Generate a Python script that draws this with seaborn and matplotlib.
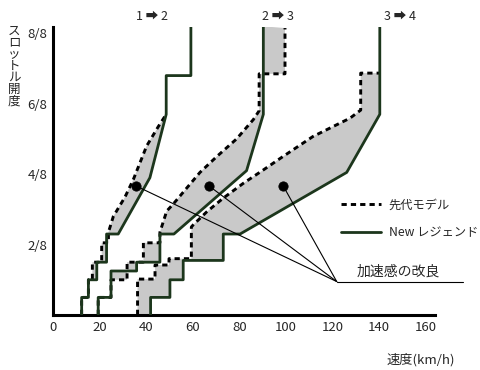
import matplotlib
matplotlib.use("Agg")
import matplotlib.pyplot as plt
import seaborn as sns
from matplotlib.lines import Line2D

# vehicle speed (km/h) vs throttle opening (in eighths)
new12_speed = [12.3, 12.3, 15.2, 15.2, 18.8, 18.8, 23.0, 23.0, 28.0, 41.6, 48.6, 48.6, 59.2, 59.2]
new12_throttle = [0, 0.5, 0.5, 1.0, 1.0, 1.5, 1.5, 2.3, 2.3, 3.9, 5.7, 6.8, 6.8, 8.2]
old12_speed = [12.3, 12.3, 15.2, 15.2, 16.9, 16.9, 20.9, 20.9, 23.8, 23.8, 25.9, 30.9, 34.5, 40.2, 45.2, 48.6]
old12_throttle = [0, 0.5, 0.5, 1.0, 1.0, 1.5, 1.5, 2.05, 2.05, 2.35, 2.8, 3.35, 3.85, 4.8, 5.35, 5.7]

new23_speed = [19.4, 19.4, 24.9, 24.9, 35.9, 35.9, 45.9, 45.9, 51.9, 83.1, 90.3, 90.3]
new23_throttle = [0, 0.5, 0.5, 1.25, 1.25, 1.5, 1.5, 2.3, 2.3, 4.1, 5.7, 8.2]
old23_speed = [19.4, 19.4, 24.9, 24.9, 31.8, 31.8, 38.8, 38.8, 45.9, 45.9, 48.8, 51.6, 56.7,
               63.1, 70.3, 78.8, 86.0, 88.5, 88.5, 99.6, 99.6]
old23_throttle = [0, 0.5, 0.5, 1.0, 1.0, 1.5, 1.5, 2.05, 2.05, 2.35, 2.95, 3.15, 3.55,
                  4.05, 4.5, 5.0, 5.55, 5.8, 6.85, 6.85, 8.15]

new34_speed = [41.9, 41.9, 50.2, 50.2, 55.9, 55.9, 73.1, 73.1, 80.3, 126.1, 140.3, 140.3]
new34_throttle = [0, 0.5, 0.5, 1.0, 1.0, 1.55, 1.55, 2.3, 2.3, 4.05, 5.7, 8.2]
old34_speed = [36.3, 36.3, 43.8, 43.8, 49.8, 49.8, 59.4, 59.4, 60.2, 66.0, 73.1, 81.7,
               90.3, 98.7, 111.6, 127.5, 132.1, 132.1, 140.3]
old34_throttle = [0, 1.02, 1.02, 1.42, 1.42, 1.6, 1.6, 2.5, 2.56, 2.93, 3.32, 3.74,
                  4.12, 4.5, 5.07, 5.59, 5.82, 6.87, 6.87]

dot_speed = [35.8, 67.1, 98.8]
dot_throttle = [3.66, 3.66, 3.67]

shift_labels = ["1 ➡ 2", "2 ➡ 3", "3 ➡ 4"]
label_speed = [42.5, 96.6, 148.9]

x_ticks = [0, 20, 40, 60, 80, 100, 120, 140, 160]
y_ticks = [2, 4, 6, 8]
y_ticklabels = ["2/8", "4/8", "6/8", "8/8"]

GRAY = "#c9c9c9"
GREEN = "#1c361c"
DASH = (0, (1.8, 1.4))

sns.set_style("white")
plt.rcParams["font.family"] = ["Noto Sans CJK JP", "DejaVu Sans"]

fig = plt.figure(figsize=(4.8, 3.7), dpi=100)
ax = fig.add_axes([53 / 480, 55 / 370, 382 / 480, 288 / 370])

# new curve is cut where it joins the old one, so the gray band closes properly
shifts = [
    (new12_speed, new12_throttle, old12_speed, old12_throttle, 11),
    (new23_speed, new23_throttle, old23_speed, old23_throttle, len(new23_speed)),
    (new34_speed, new34_throttle, old34_speed, old34_throttle, 11),
]
for ns, nt, os_, ot, cut in shifts:
    ax.fill(ns[:cut] + os_[::-1], nt[:cut] + ot[::-1], color=GRAY, lw=0, zorder=1)
    sns.lineplot(x=os_, y=ot, sort=False, estimator=None, color="black",
                 lw=2.1, linestyle=DASH, ax=ax, zorder=2)
    sns.lineplot(x=ns, y=nt, sort=False, estimator=None, color=GREEN,
                 lw=2.0, ax=ax, zorder=3)

# pointer lines "加速感の改良"
hub_x, hub_y = 121.8, 0.95
for sx, sy in zip(dot_speed, dot_throttle):
    ax.plot([sx, hub_x], [sy, hub_y], color="black", lw=0.8, zorder=4)
ax.plot([hub_x, 176], [hub_y, hub_y], color="black", lw=0.8, zorder=4, clip_on=False)
ax.text(148.1, 1.24, "加速感の改良", ha="center", va="center", fontsize=10)

sns.scatterplot(x=dot_speed, y=dot_throttle, color="black", s=45, ax=ax, zorder=5,
                edgecolor="black")

for lab, sx in zip(shift_labels, label_speed):
    ax.text(sx, 8.49, lab, ha="center", va="center", fontsize=9, clip_on=False)

handles = [Line2D([], [], color="black", lw=2.1, linestyle=DASH),
           Line2D([], [], color=GREEN, lw=2.0)]
ax.legend(handles, ["先代モデル", "New レジェンド"], loc="center left",
          bbox_to_anchor=(341 / 480, 1 - 219 / 370), bbox_transform=fig.transFigure,
          frameon=False, fontsize=8.8, handlelength=3.3, handletextpad=0.6,
          labelspacing=1.2, borderpad=0, borderaxespad=0)

ax.set_xlim(0, 164)
ax.set_ylim(0, 8.18)
ax.set_xticks(x_ticks)
ax.set_yticks(y_ticks)
ax.set_yticklabels(y_ticklabels)
ax.tick_params(length=0, labelsize=9.5, pad=4)
ax.set_xlabel("")
ax.set_ylabel("")
sns.despine(ax=ax)
for side in ["left", "bottom"]:
    ax.spines[side].set_linewidth(2.2)
    ax.spines[side].set_color("black")

fig.text(14 / 480, 1 - 66 / 370, "\n".join("スロットル開度"), ha="center", va="center",
         fontsize=9, linespacing=0.86)
fig.text(421 / 480, 1 - 360 / 370, "速度(km/h)", ha="center", va="center", fontsize=9.5)

fig.savefig("out.png", dpi=100)
